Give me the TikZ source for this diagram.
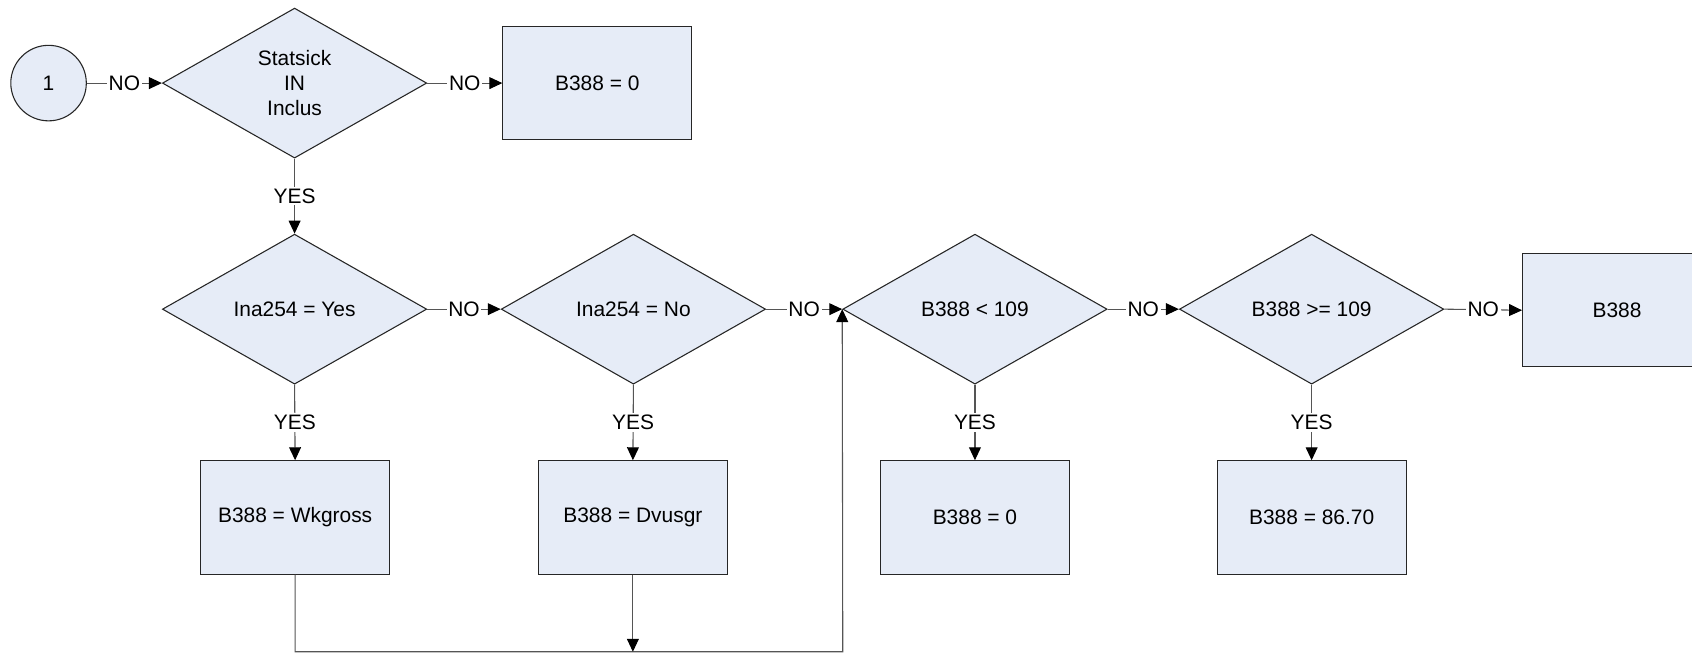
\documentclass[tikz,border=0pt]{standalone}
\usepackage{fontspec}
\setmainfont{Liberation Sans}
\usetikzlibrary{shapes.geometric,arrows.meta}
\definecolor{boxfill}{HTML}{E6ECF7}
\definecolor{linegray}{HTML}{555555}
\begin{document}
\begin{tikzpicture}[x=0.5pt,y=-0.5pt,
 every node/.style={font=\fontsize{9.7}{11.6}\selectfont},
 dec/.style={diamond,draw=black!85,fill=boxfill,line width=0.5pt,minimum width=122.5pt,minimum height=69.5pt,inner sep=0pt,align=center},
 proc/.style={rectangle,draw=black!85,fill=boxfill,line width=0.5pt,minimum width=87.5pt,minimum height=52.5pt,align=center},
 conn/.style={circle,draw=black!85,fill=boxfill,line width=0.5pt,minimum size=35pt,inner sep=0pt},
 flow/.style={draw=linegray,line width=0.5pt,-{Triangle[length=6pt,width=5.5pt,color=black]}},
 lab/.style={fill=white,inner sep=0.8pt}]
\useasboundingbox (0,0) rectangle (1568,605);
\clip (0,0) rectangle (1568,605);
\node[conn] (c1) at (45,77) {1};
\node[dec] (d1) at (273,77) {Statsick\\IN\\Inclus};
\node[proc] (b0) at (553.5,77) {B388 = 0};
\node[dec] (d2) at (273,286.5) {Ina254 = Yes};
\node[dec] (d3) at (587,286.5) {Ina254 = No};
\node[dec] (d4) at (903.5,286.5) {B388 < 109};
\node[dec] (d5) at (1215.5,286.5) {B388 >= 109};
\node[proc] (bout) at (1498.5,287.5) {B388};
\node[proc] (bw) at (273.5,479.5) {B388 = Wkgross};
\node[proc] (bd) at (586.5,479.5) {B388 = Dvusgr};
\node[proc] (bz) at (903.5,479.5) {B388 = 0};
\node[proc] (b86) at (1215.5,479.5) {B388 = 86.70};
\coordinate (bl) at (273.5,604);
\coordinate (br) at (781,604);
\path[flow] (c1.east) -- node[lab]{NO} (d1.west);
\path[flow] (d1.east) -- node[lab]{NO} (b0.west);
\path[flow] (d1.south) -- node[lab]{YES} (d2.north);
\path[flow] (d2.east) -- node[lab]{NO} (d3.west);
\path[flow] (d3.east) -- node[lab]{NO} (d4.west);
\path[flow] (d4.east) -- node[lab]{NO} (d5.west);
\path[flow] (d5.east) -- node[lab]{NO} (bout.west);
\path[flow] (d2.south) -- node[lab]{YES} (bw.north);
\path[flow] (d3.south) -- node[lab]{YES} (bd.north);
\path[flow] (d4.south) -- node[lab]{YES} (bz.north);
\path[flow] (d5.south) -- node[lab]{YES} (b86.north);
\path[flow] (bw.south) -- (bl) -- (br) -- (d4.west);
\path[flow] (bd.south) -- (bd.south |- br);
\end{tikzpicture}
\end{document}
